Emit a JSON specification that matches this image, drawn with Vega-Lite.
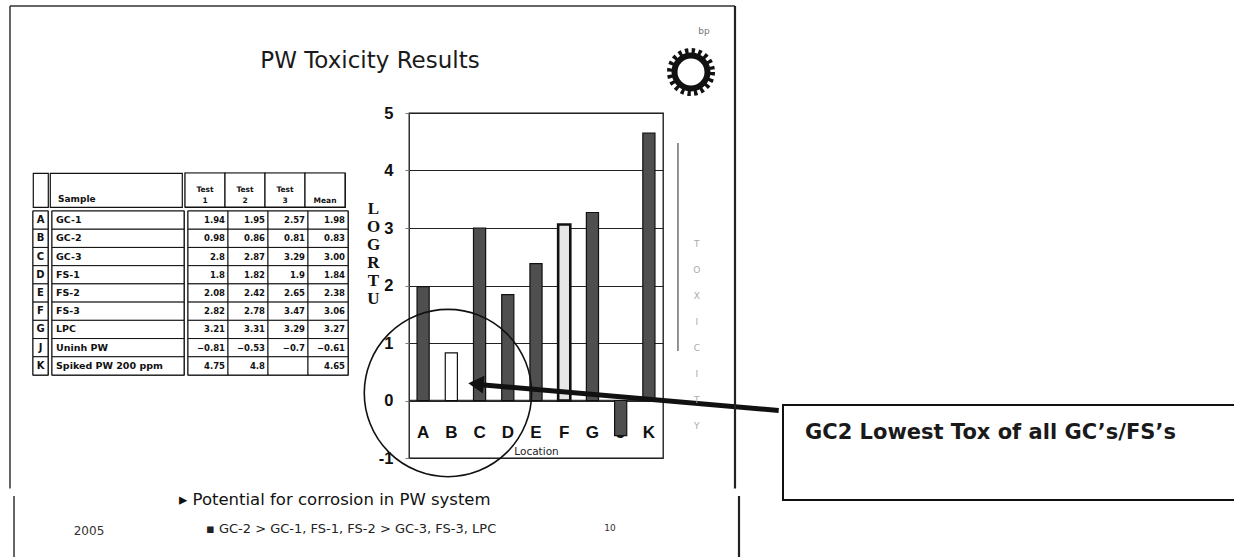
{
  "$schema": "https://vega.github.io/schema/vega-lite/v6.json",
  "background": "white",
  "padding": {"left": 8, "top": 4, "right": 0, "bottom": 0},
  "config": {"view": {"stroke": null}, "font": "DejaVu Sans"},
  "datasets": {
    "samples": [
      {"letter": "A", "sample": "GC-1", "Test 1": 1.94, "Test 2": 1.95, "Test 3": 2.57, "Mean": 1.98},
      {"letter": "B", "sample": "GC-2", "Test 1": 0.98, "Test 2": 0.86, "Test 3": 0.81, "Mean": 0.83},
      {"letter": "C", "sample": "GC-3", "Test 1": 2.8, "Test 2": 2.87, "Test 3": 3.29, "Mean": 3.00},
      {"letter": "D", "sample": "FS-1", "Test 1": 1.8, "Test 2": 1.82, "Test 3": 1.9, "Mean": 1.84},
      {"letter": "E", "sample": "FS-2", "Test 1": 2.08, "Test 2": 2.42, "Test 3": 2.65, "Mean": 2.38},
      {"letter": "F", "sample": "FS-3", "Test 1": 2.82, "Test 2": 2.78, "Test 3": 3.47, "Mean": 3.06},
      {"letter": "G", "sample": "LPC", "Test 1": 3.21, "Test 2": 3.31, "Test 3": 3.29, "Mean": 3.27},
      {"letter": "J", "sample": "Uninh PW", "Test 1": -0.81, "Test 2": -0.53, "Test 3": -0.7, "Mean": -0.61},
      {"letter": "K", "sample": "Spiked PW 200 ppm", "Test 1": 4.75, "Test 2": 4.8, "Test 3": null, "Mean": 4.65}
    ],
    "headers": [
      {"col": "Test 1", "label": "Test\n1"},
      {"col": "Test 2", "label": "Test\n2"},
      {"col": "Test 3", "label": "Test\n3"},
      {"col": "Mean", "label": "\nMean"}
    ]
  },
  "spacing": 0,
  "hconcat": [
    {
      "spacing": -101,
      "vconcat": [
        {
          "spacing": 0,
          "hconcat": [
            {
              "width": 625, "height": 34,
              "data": {"values": [{"t": "PW Toxicity Results"}]},
              "mark": {"type": "text", "font": "DejaVu Sans", "fontSize": 23, "color": "#1a1a1a", "dx": 24.5, "baseline": "middle"},
              "encoding": {"text": {"field": "t", "type": "nominal"}}
            },
            {
              "width": 38, "height": 56,
              "title": {"text": "bp", "fontSize": 9, "color": "#777", "offset": 3, "anchor": "middle", "dx": 13, "fontWeight": "normal"},
              "data": {"values": [{"logo": "bp"}]},
              "layer": [
                {"mark": {"type": "point", "shape": "circle", "filled": false, "stroke": "#111", "strokeWidth": 6, "size": 1764, "strokeDash": [3.3, 3.3], "opacity": 1}, "encoding": {}},
                {"mark": {"type": "point", "shape": "circle", "filled": false, "stroke": "#111", "strokeWidth": 6, "size": 1089, "opacity": 1}, "encoding": {}}
              ]
            }
          ]
        },
        {
          "spacing": 0,
          "vconcat": [
            {
              "spacing": -342,
              "hconcat": [
                {
                  "spacing": 0,
                  "vconcat": [
                    {
                      "width": 10, "height": 58,
                      "data": {"values": []},
                      "mark": "text",
                      "encoding": {}
                    },
                    {
                      "spacing": 0,
                      "hconcat": [
                        {
                          "width": 15, "height": 34,
                          "view": {"stroke": "#111", "strokeWidth": 1.2},
                          "data": {"values": []},
                          "mark": "text",
                          "encoding": {}
                        },
                        {
                          "width": 132, "height": 34,
                          "view": {"stroke": "#111", "strokeWidth": 1.2},
                          "data": {"values": [{"h": "Sample"}]},
                          "mark": {"type": "text", "align": "left", "baseline": "bottom", "dx": -58, "dy": 14, "fontSize": 9, "fontWeight": "bold", "color": "#111"},
                          "encoding": {"text": {"field": "h", "type": "nominal"}}
                        },
                        {
                          "width": 160, "height": 34,
                          "view": {"stroke": "#111", "strokeWidth": 1.2},
                          "data": {"name": "headers"},
                          "layer": [
                            {
                              "mark": {"type": "rect", "fill": "white", "stroke": "#111", "strokeWidth": 1.2},
                              "encoding": {"x": {"field": "col", "type": "nominal", "scale": {"domain": ["Test 1", "Test 2", "Test 3", "Mean"], "paddingInner": 0, "paddingOuter": 0}, "axis": null}}
                            },
                            {
                              "mark": {"type": "text", "lineBreak": "\n", "fontSize": 7.5, "fontWeight": "bold", "color": "#111", "lineHeight": 11, "baseline": "middle"},
                              "encoding": {"x": {"field": "col", "type": "nominal", "axis": null}, "text": {"field": "label", "type": "nominal"}}
                            }
                          ]
                        }
                      ]
                    },
                    {
                      "spacing": 0,
                      "hconcat": [
                        {
                          "width": 15, "height": 164,
                          "view": {"stroke": "#111", "strokeWidth": 1.4},
                          "data": {"name": "samples"},
                          "layer": [
                            {
                              "mark": {"type": "rect", "fill": "white", "stroke": "#111", "strokeWidth": 1},
                              "encoding": {"y": {"field": "letter", "type": "nominal", "scale": {"paddingInner": 0, "paddingOuter": 0}, "axis": null}}
                            },
                            {
                              "mark": {"type": "text", "fontSize": 10, "fontWeight": "bold", "color": "#111"},
                              "encoding": {"y": {"field": "letter", "type": "nominal", "axis": null}, "text": {"field": "letter", "type": "nominal"}}
                            }
                          ]
                        },
                        {
                          "width": 132, "height": 164,
                          "view": {"stroke": "#111", "strokeWidth": 1.4},
                          "data": {"name": "samples"},
                          "layer": [
                            {
                              "mark": {"type": "rect", "fill": "white", "stroke": "#111", "strokeWidth": 1},
                              "encoding": {"y": {"field": "letter", "type": "nominal", "scale": {"paddingInner": 0, "paddingOuter": 0}, "axis": null}}
                            },
                            {
                              "mark": {"type": "text", "align": "left", "dx": -62, "fontSize": 9.5, "fontWeight": "bold", "color": "#111"},
                              "encoding": {"y": {"field": "letter", "type": "nominal", "axis": null}, "text": {"field": "sample", "type": "nominal"}}
                            }
                          ]
                        },
                        {
                          "width": 160, "height": 164,
                          "view": {"stroke": "#111", "strokeWidth": 1.4},
                          "data": {"name": "samples"},
                          "transform": [{"fold": ["Test 1", "Test 2", "Test 3", "Mean"], "as": ["col", "value"]}],
                          "layer": [
                            {
                              "mark": {"type": "rect", "fill": "white", "stroke": "#111", "strokeWidth": 1},
                              "encoding": {
                                "x": {"field": "col", "type": "nominal", "scale": {"domain": ["Test 1", "Test 2", "Test 3", "Mean"], "paddingInner": 0, "paddingOuter": 0}, "axis": null},
                                "y": {"field": "letter", "type": "nominal", "scale": {"paddingInner": 0, "paddingOuter": 0}, "axis": null}
                              }
                            },
                            {
                              "transform": [{"filter": "isValid(datum.value)"}],
                              "mark": {"type": "text", "align": "right", "dx": -3, "fontSize": 8.5, "fontWeight": "bold", "color": "#111"},
                              "encoding": {
                                "x": {"field": "col", "type": "nominal", "bandPosition": 1, "axis": null},
                                "y": {"field": "letter", "type": "nominal", "axis": null},
                                "text": {"condition": {"test": "datum.col === 'Mean'", "field": "value", "type": "quantitative", "format": ".2f"}, "field": "value", "type": "quantitative", "format": ".3~g"}
                              }
                            }
                          ]
                        }
                      ]
                    }
                  ]
                },
                {
                  "width": 254, "height": 345,
                  "view": {"stroke": "#111", "strokeWidth": 1.3},
                  "layer": [
                    {
                      "data": {"name": "samples"},
                      "layer": [
                        {
                          "mark": {"type": "text", "font": "Liberation Sans", "fontSize": 17, "fontWeight": "bold", "color": "#111", "baseline": "middle"},
                          "encoding": {
                            "x": {"field": "letter", "type": "nominal"},
                            "y": {"datum": -0.565, "type": "quantitative"},
                            "text": {"field": "letter", "type": "nominal"}
                          }
                        },
                        {
                          "data": {"values": [{"line": "zero"}]},
                          "mark": {"type": "rule", "color": "#333", "strokeWidth": 1.3},
                          "encoding": {"y": {"datum": 0, "type": "quantitative"}}
                        },
                        {
                          "mark": {"type": "bar", "stroke": "#111"},
                          "encoding": {
                            "x": {
                              "field": "letter", "type": "nominal",
                              "scale": {"type": "band", "domain": ["A", "B", "C", "D", "E", "F", "G", "J", "K"], "paddingInner": 0.57, "paddingOuter": 0.285},
                              "axis": {"labels": false, "ticks": false, "domain": false, "grid": false, "title": "Location", "titleFont": "DejaVu Sans", "titleFontSize": 10.5, "titleFontWeight": "normal", "titleColor": "#222", "titlePadding": -12}
                            },
                            "y": {
                              "field": "Mean", "type": "quantitative",
                              "scale": {"domain": [-1, 5], "nice": false, "zero": false},
                              "axis": {
                                "values": [-1, 0, 1, 2, 3, 4, 5],
                                "format": "d",
                                "labelExpr": "replace(datum.label, '\u2212', '-')",
                                "labelFont": "Liberation Sans", "labelFontSize": 16.5, "labelFontWeight": "bold", "labelColor": "#111",
                                "labelPadding": 12, "labelFlush": false, "labelOverlap": false,
                                "ticks": true, "tickSize": 4, "tickColor": "#777",
                                "domain": false,
                                "grid": true, "gridColor": "#222", "gridWidth": 1.2,
                                "title": ["L", "O", "G", "R", "T", "U"],
                                "titleAngle": 0, "titleAlign": "center", "titleBaseline": "top",
                                "titleFont": "Liberation Serif", "titleFontSize": 17, "titleFontWeight": "bold", "titleColor": "#111",
                                "titleLineHeight": 18, "titleX": -36, "titleY": 87
                              }
                            },
                            "y2": {"datum": 0},
                            "fill": {"condition": [{"test": "datum.letter === 'B'", "value": "white"}, {"test": "datum.letter === 'F'", "value": "#e6e6e6"}], "value": "#4f4f4f"},
                            "strokeWidth": {"condition": {"test": "datum.letter === 'F'", "value": 2.6}, "value": 1.2}
                          }
                        }
                      ]
                    },
                    {
                      "data": {"values": [{"note": "annotation"}]},
                      "layer": [
                        {
                          "mark": {"type": "point", "shape": "circle", "filled": false, "stroke": "#111", "strokeWidth": 1.6, "size": 28000, "opacity": 1},
                          "encoding": {
                            "x": {"datum": 1.88, "type": "quantitative", "scale": {"domain": [0.5, 9.5], "nice": false, "zero": false}, "axis": null},
                            "y": {"datum": 0.13, "type": "quantitative"}
                          }
                        },
                        {
                          "mark": {"type": "rule", "stroke": "#111", "strokeWidth": 5},
                          "encoding": {
                            "x": {"datum": 2.95, "type": "quantitative", "axis": null},
                            "y": {"datum": 0.28, "type": "quantitative"},
                            "x2": {"datum": 13.6},
                            "y2": {"datum": -0.175}
                          }
                        },
                        {
                          "mark": {"type": "point", "shape": "triangle-left", "filled": true, "color": "#111", "size": 320, "angle": 5, "opacity": 1},
                          "encoding": {
                            "x": {"datum": 2.874, "type": "quantitative", "axis": null},
                            "y": {"datum": 0.287, "type": "quantitative"}
                          }
                        },
                        {
                          "mark": {"type": "rule", "stroke": "#888", "strokeWidth": 1.8},
                          "encoding": {
                            "x": {"datum": 10.03, "type": "quantitative", "axis": null},
                            "y": {"datum": 4.478, "type": "quantitative"},
                            "y2": {"datum": 0.861}
                          }
                        },
                        {
                          "mark": {"type": "text", "lineBreak": "\n", "lineHeight": 26, "fontSize": 9, "color": "#aaa", "baseline": "middle"},
                          "encoding": {
                            "x": {"datum": 10.7, "type": "quantitative", "axis": null},
                            "y": {"datum": 2.72, "type": "quantitative"},
                            "text": {"value": "T\nO\nX\nI\nC\nI\nT\nY"}
                          }
                        },
                        {
                          "mark": {"type": "rule", "stroke": "#333", "strokeWidth": 1.5},
                          "encoding": {
                            "x": {"datum": -13.638, "type": "quantitative", "axis": null},
                            "x2": {"datum": 12.051},
                            "y": {"datum": 6.861, "type": "quantitative"}
                          }
                        },
                        {
                          "mark": {"type": "rule", "stroke": "#333", "strokeWidth": 1.5},
                          "encoding": {
                            "x": {"datum": -13.638, "type": "quantitative", "axis": null},
                            "y": {"datum": 6.861, "type": "quantitative"},
                            "y2": {"datum": -1.53}
                          }
                        },
                        {
                          "mark": {"type": "rule", "stroke": "#222", "strokeWidth": 2.2},
                          "encoding": {
                            "x": {"datum": 12.051, "type": "quantitative", "axis": null},
                            "y": {"datum": 6.861, "type": "quantitative"},
                            "y2": {"datum": -1.53}
                          }
                        }
                      ]
                    }
                  ],
                  "resolve": {"scale": {"x": "independent"}}
                }
              ]
            },
            {
              "spacing": 34,
              "hconcat": [
                {
                  "width": 112, "height": 67,
                  "layer": [
                    {
                      "data": {"values": [{"edge": "slide"}]},
                      "mark": {"type": "rule", "stroke": "#333", "strokeWidth": 1.5},
                      "encoding": {"x": {"datum": -0.1696, "type": "quantitative", "scale": {"domain": [0, 1], "nice": false, "zero": false}, "axis": null}}
                    },
                    {
                      "data": {"values": [{"d": "2005"}]},
                      "mark": {"type": "text", "fontSize": 12, "color": "#333", "baseline": "middle", "dy": 1},
                      "encoding": {"text": {"field": "d", "type": "nominal"}}
                    }
                  ]
                },
                {
                  "width": 382, "height": 67,
                  "layer": [
                    {
                      "data": {"values": [{"bullet": "\u25b8 Potential for corrosion in PW system"}]},
                      "mark": {"type": "text", "align": "left", "baseline": "middle", "dx": -191, "dy": -30, "fontSize": 16.5, "color": "#111"},
                      "encoding": {"text": {"field": "bullet", "type": "nominal"}}
                    },
                    {
                      "data": {"values": [{"bullet": "\u25aa GC-2 > GC-1, FS-1, FS-2 > GC-3, FS-3, LPC"}]},
                      "mark": {"type": "text", "align": "left", "baseline": "middle", "dx": -164, "dy": -1, "fontSize": 13, "color": "#222"},
                      "encoding": {"text": {"field": "bullet", "type": "nominal"}}
                    }
                  ]
                },
                {
                  "width": 30, "height": 67,
                  "layer": [
                    {
                      "data": {"values": [{"edge": "slide"}]},
                      "mark": {"type": "rule", "stroke": "#222", "strokeWidth": 2.2},
                      "encoding": {"x": {"datum": 4.8, "type": "quantitative", "scale": {"domain": [0, 1], "nice": false, "zero": false}, "axis": null}}
                    },
                    {
                      "data": {"values": [{"p": "10"}]},
                      "mark": {"type": "text", "fontSize": 9, "color": "#333", "baseline": "middle", "dy": -2},
                      "encoding": {"text": {"field": "p", "type": "nominal"}}
                    }
                  ]
                }
              ]
            }
          ]
        }
      ]
    },
    {
      "spacing": 0,
      "vconcat": [
        {
          "width": 10, "height": 360,
          "data": {"values": []},
          "mark": "text",
          "encoding": {}
        },
        {
          "width": 460, "height": 95,
          "view": {"stroke": "#111", "strokeWidth": 2},
          "title": {"text": "GC2 Lowest Tox of all GC\u2019s/FS\u2019s", "anchor": "start", "frame": "group", "offset": -38, "dx": 22, "font": "DejaVu Sans", "fontSize": 21, "fontWeight": "bold", "color": "#1a1a1a"},
          "data": {"values": []},
          "mark": "text",
          "encoding": {}
        }
      ]
    }
  ]
}
